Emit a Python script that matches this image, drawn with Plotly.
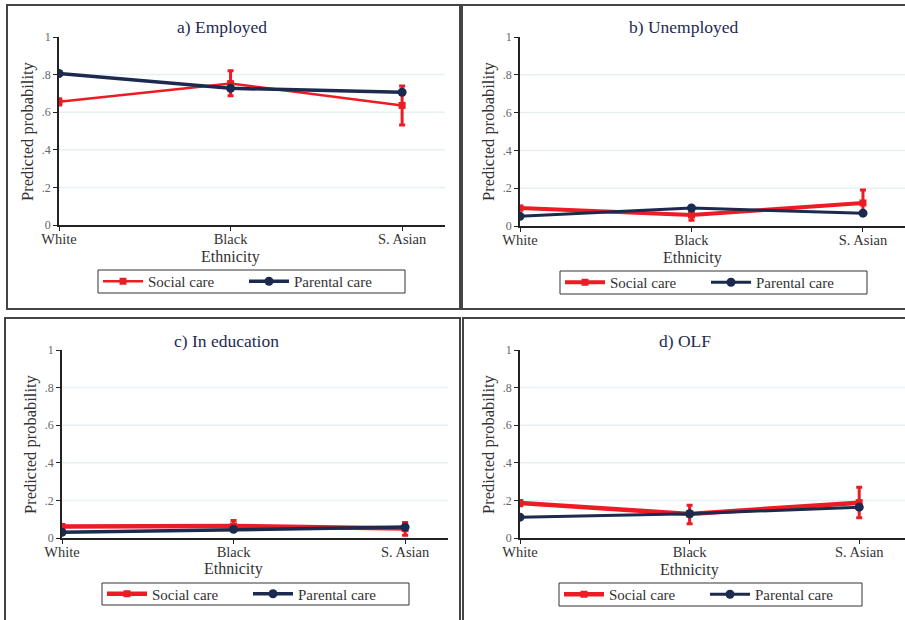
import plotly.graph_objects as go

W, H = 905, 620

categories = ["White", "Black", "S. Asian"]
y_ticks = [0, 0.2, 0.4, 0.6, 0.8, 1]
y_tick_labels = ["0", ".2", ".4", ".6", ".8", "1"]
panel_titles = ["a) Employed", "b) Unemployed", "c) In education", "d) OLF"]
series_names = ["Social care", "Parental care"]

a_social = [0.655, 0.752, 0.636]
a_social_lo = [0.638, 0.688, 0.532]
a_social_hi = [0.672, 0.820, 0.740]
a_parental = [0.806, 0.727, 0.706]

b_social = [0.095, 0.058, 0.122]
b_social_lo = [0.085, 0.030, 0.066]
b_social_hi = [0.105, 0.082, 0.190]
b_parental = [0.051, 0.095, 0.068]

c_social = [0.061, 0.064, 0.050]
c_social_lo = [0.050, 0.040, 0.014]
c_social_hi = [0.072, 0.093, 0.083]
c_parental = [0.030, 0.046, 0.058]

d_social = [0.186, 0.128, 0.188]
d_social_lo = [0.172, 0.076, 0.108]
d_social_hi = [0.200, 0.174, 0.270]
d_parental = [0.111, 0.129, 0.164]

RED = "#ec1c24"
NAVY = "#1b2a4e"
FONT = "Liberation Serif"


def px(x):
    return x / W


def py(y):
    return 1 - y / H


# layout geometry in pixels (decoration only)
panels = [
    dict(social=a_social, lo=a_social_lo, hi=a_social_hi, par=a_parental,
         xdom=(59, 445), xr=2.25, ydom=(37, 225), title=(222, 27),
         ytitle=(27, 131), xtitle=(231, 257), leg=(98, 270, 405, 293),
         box=(7, 5, 460, 309), sw=2.5, pw=3.5),
    dict(social=b_social, lo=b_social_lo, hi=b_social_hi, par=b_parental,
         xdom=(520, 905), xr=2.245, ydom=(37, 226), title=(684, 27),
         ytitle=(488, 131), xtitle=(692, 258), leg=(560, 271, 867, 294),
         box=(462, 5, 908, 309), sw=4, pw=3),
    dict(social=c_social, lo=c_social_lo, hi=c_social_hi, par=c_parental,
         xdom=(62, 448), xr=2.25, ydom=(350, 538), title=(226, 341),
         ytitle=(30, 444), xtitle=(233, 569), leg=(102, 583, 409, 605),
         box=(5, 318, 460, 624), sw=4.5, pw=3.5),
    dict(social=d_social, lo=d_social_lo, hi=d_social_hi, par=d_parental,
         xdom=(520, 905), xr=2.27, ydom=(350, 538), title=(685, 341),
         ytitle=(488, 444), xtitle=(689, 570), leg=(559, 583, 862, 606),
         box=(463, 318, 908, 624), sw=4.5, pw=3),
]

fig = go.Figure()
layout = dict(
    template="none",
    width=W, height=H, margin=dict(l=0, r=0, t=0, b=0, pad=0), autosize=False,
    paper_bgcolor="white", plot_bgcolor="white",
    font=dict(family=FONT, color="#222"),
    shapes=[], annotations=[],
)

for i, p in enumerate(panels):
    n = "" if i == 0 else str(i + 1)
    xa, ya = "x" + n, "y" + n
    leg = "legend" + n
    xs = list(range(len(categories)))
    err_plus = [h - v for h, v in zip(p["hi"], p["social"])]
    err_minus = [v - l for v, l in zip(p["social"], p["lo"])]
    fig.add_trace(go.Scatter(
        x=xs, y=p["social"], mode="lines+markers", name=series_names[0],
        line=dict(color=RED, width=p["sw"]),
        marker=dict(color=RED, size=7, symbol="square"),
        error_y=dict(type="data", array=err_plus, arrayminus=err_minus,
                     color=RED, thickness=3, width=3),
        xaxis=xa, yaxis=ya, legend=leg,
    ))
    fig.add_trace(go.Scatter(
        x=xs, y=p["par"], mode="lines+markers", name=series_names[1],
        line=dict(color=NAVY, width=p["pw"]),
        marker=dict(color=NAVY, size=9, symbol="circle"),
        xaxis=xa, yaxis=ya, legend=leg,
    ))
    x0, x1 = p["xdom"]
    y0, y1 = p["ydom"]
    layout["xaxis" + n] = dict(
        domain=[px(x0), min(px(x1), 1)], range=[0, p["xr"]], anchor=ya,
        tickvals=xs, ticktext=categories, ticks="outside", ticklen=4,
        tickcolor="#222", showline=True, linecolor="#222", linewidth=1.5,
        showgrid=False, zeroline=False, fixedrange=True, automargin=False,
        ticklabelstandoff=-4,
        tickfont=dict(family=FONT, size=14.5, color="#333"),
    )
    layout["yaxis" + n] = dict(
        domain=[py(y1), py(y0)], range=[0, 1], anchor=xa,
        tickvals=y_ticks, ticktext=y_tick_labels, ticks="outside", ticklen=4,
        tickcolor="#222", showline=True, linecolor="#222", linewidth=1.5,
        showgrid=False, zeroline=False, fixedrange=True, automargin=False,
        tickfont=dict(family=FONT, size=12, color="#666"),
    )
    for g in y_ticks[1:-1]:
        layout["shapes"].append(dict(
            type="line", xref=xa + " domain", yref=ya, x0=0, x1=1, y0=g, y1=g,
            line=dict(color="#e6f0f2", width=1.5), layer="below"))
    bx0, by0, bx1, by1 = p["box"]
    layout["shapes"].append(dict(
        type="rect", xref="paper", yref="paper", x0=px(bx0), x1=px(bx1),
        y0=py(by1), y1=py(by0), line=dict(color="#444", width=2)))
    lx0, ly0, lx1, ly1 = p["leg"]
    layout["shapes"].append(dict(
        type="rect", xref="paper", yref="paper", x0=px(lx0), x1=px(lx1),
        y0=py(ly1), y1=py(ly0), line=dict(color="#333", width=1)))
    layout[leg] = dict(
        x=px(lx0), y=py((ly0 + ly1) / 2), xanchor="left", yanchor="middle",
        orientation="h", bgcolor="rgba(0,0,0,0)", borderwidth=0,
        font=dict(family=FONT, size=15, color="#333"),
        entrywidth=91, itemwidth=40, tracegroupgap=0,
    )
    tx, ty = p["title"]
    layout["annotations"].append(dict(
        text=panel_titles[i], x=px(tx), y=py(ty), xref="paper", yref="paper",
        xanchor="center", yanchor="middle",
        showarrow=False, font=dict(family=FONT, size=17.5, color="#1e2b50")))
    yx, yy = p["ytitle"]
    layout["annotations"].append(dict(
        text="Predicted probability", x=px(yx), y=py(yy), xref="paper",
        yref="paper", showarrow=False, textangle=-90,
        xanchor="center", yanchor="middle",
        font=dict(family=FONT, size=16.5, color="#333")))
    ex, ey = p["xtitle"]
    layout["annotations"].append(dict(
        text="Ethnicity", x=px(ex), y=py(ey), xref="paper", yref="paper",
        xanchor="center", yanchor="middle",
        showarrow=False, font=dict(family=FONT, size=16, color="#333")))

fig.update_layout(**layout)
fig.write_html(
    "out.html",
    config={"displayModeBar": False},
    post_script="document.body.style.margin='0';document.body.style.overflow='hidden';",
)
